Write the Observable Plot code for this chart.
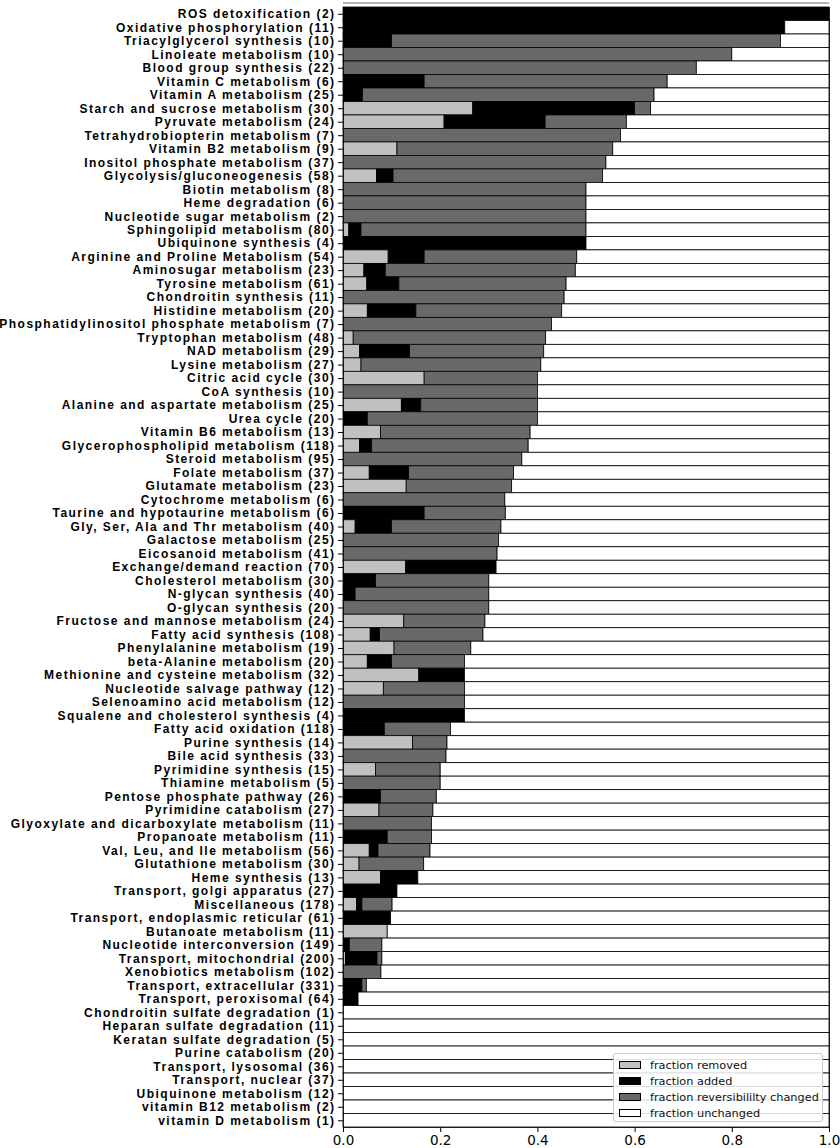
<!DOCTYPE html>
<html>
<head>
<meta charset="utf-8">
<script src="https://cdn.jsdelivr.net/npm/d3@7"></script>
<script src="https://cdn.jsdelivr.net/npm/@observablehq/plot@0.6"></script>
<style>
  body { margin: 0; background: #fff; }
  #wrap { position: relative; width: 840px; height: 1148px; }
  #legend {
    position: absolute; left: 613px; top: 1053px; width: 210px; height: 69px;
    background: rgba(255,255,255,0.85); border: 1px solid #cccccc; border-radius: 3px;
    font-family: "DejaVu Sans", sans-serif; font-size: 11.3px; color: #111;
    box-sizing: border-box; padding: 3px 0 0 5px;
  }
  .lrow { display: flex; align-items: center; height: 16px; }
  .sw { width: 22px; height: 8px; border: 1px solid #000; box-sizing: border-box; margin-right: 9px; }
</style>
</head>
<body>
<div id="wrap"></div>
<script>
const labels = [
  "ROS detoxification (2)","Oxidative phosphorylation (11)","Triacylglycerol synthesis (10)","Linoleate metabolism (10)",
  "Blood group synthesis (22)","Vitamin C metabolism (6)","Vitamin A metabolism (25)","Starch and sucrose metabolism (30)",
  "Pyruvate metabolism (24)","Tetrahydrobiopterin metabolism (7)","Vitamin B2 metabolism (9)","Inositol phosphate metabolism (37)",
  "Glycolysis/gluconeogenesis (58)","Biotin metabolism (8)","Heme degradation (6)","Nucleotide sugar metabolism (2)",
  "Sphingolipid metabolism (80)","Ubiquinone synthesis (4)","Arginine and Proline Metabolism (54)","Aminosugar metabolism (23)",
  "Tyrosine metabolism (61)","Chondroitin synthesis (11)","Histidine metabolism (20)","Phosphatidylinositol phosphate metabolism (7)",
  "Tryptophan metabolism (48)","NAD metabolism (29)","Lysine metabolism (27)","Citric acid cycle (30)",
  "CoA synthesis (10)","Alanine and aspartate metabolism (25)","Urea cycle (20)","Vitamin B6 metabolism (13)",
  "Glycerophospholipid metabolism (118)","Steroid metabolism (95)","Folate metabolism (37)","Glutamate metabolism (23)",
  "Cytochrome metabolism (6)","Taurine and hypotaurine metabolism (6)","Gly, Ser, Ala and Thr metabolism (40)","Galactose metabolism (25)",
  "Eicosanoid metabolism (41)","Exchange/demand reaction (70)","Cholesterol metabolism (30)","N-glycan synthesis (40)",
  "O-glycan synthesis (20)","Fructose and mannose metabolism (24)","Fatty acid synthesis (108)","Phenylalanine metabolism (19)",
  "beta-Alanine metabolism (20)","Methionine and cysteine metabolism (32)","Nucleotide salvage pathway (12)","Selenoamino acid metabolism (12)",
  "Squalene and cholesterol synthesis (4)","Fatty acid oxidation (118)","Purine synthesis (14)","Bile acid synthesis (33)",
  "Pyrimidine synthesis (15)","Thiamine metabolism (5)","Pentose phosphate pathway (26)","Pyrimidine catabolism (27)",
  "Glyoxylate and dicarboxylate metabolism (11)","Propanoate metabolism (11)","Val, Leu, and Ile metabolism (56)","Glutathione metabolism (30)",
  "Heme synthesis (13)","Transport, golgi apparatus (27)","Miscellaneous (178)","Transport, endoplasmic reticular (61)",
  "Butanoate metabolism (11)","Nucleotide interconversion (149)","Transport, mitochondrial (200)","Xenobiotics metabolism (102)",
  "Transport, extracellular (331)","Transport, peroxisomal (64)","Chondroitin sulfate degradation (1)","Heparan sulfate degradation (11)",
  "Keratan sulfate degradation (5)","Purine catabolism (20)","Transport, lysosomal (36)","Transport, nuclear (37)",
  "Ubiquinone metabolism (12)","vitamin B12 metabolism (2)","vitamin D metabolism (1)"
];

const fracRemoved = [
  0,0,0,0, 0,0,0,0.267, 0.208,0,0.111,0, 0.069,0,0,0, 0.012,0,0.093,0.043, 0.049,0,0.05,0,
  0.021,0.034,0.037,0.167, 0,0.12,0,0.077, 0.034,0,0.054,0.13, 0,0,0.025,0, 0,0.129,0,0,
  0,0.125,0.056,0.105, 0.05,0.156,0.083,0, 0,0,0.143,0, 0.067,0,0,0.074, 0,0,0.054,0.033,
  0.077,0,0.028,0, 0.091,0,0.005,0, 0,0,0,0, 0,0,0,0, 0,0,0
];
const fracAdded = [
  1,0.909,0.1,0, 0,0.167,0.04,0.333, 0.208,0,0,0, 0.034,0,0,0, 0.025,0.5,0.074,0.044, 0.066,0,0.1,0,
  0,0.103,0,0, 0,0.04,0.05,0, 0.025,0,0.081,0, 0,0.167,0.075,0, 0,0.186,0.067,0.025,
  0,0,0.019,0, 0.05,0.094,0,0, 0.25,0.085,0,0, 0,0,0.077,0, 0,0.091,0.018,0,
  0.077,0.111,0.011,0.098, 0,0.013,0.065,0, 0.039,0.031,0,0, 0,0,0,0, 0,0,0
];
const fracReversibility = [
  0,0,0.8,0.8, 0.727,0.5,0.6,0.033, 0.167,0.571,0.444,0.541, 0.431,0.5,0.5,0.5, 0.463,0,0.314,0.391, 0.344,0.455,0.3,0.429,
  0.396,0.276,0.37,0.233, 0.4,0.24,0.35,0.308, 0.322,0.368,0.216,0.217, 0.333,0.167,0.225,0.32, 0.317,0,0.233,0.275,
  0.3,0.167,0.213,0.158, 0.15,0,0.167,0.25, 0,0.136,0.071,0.212, 0.133,0.2,0.115,0.111, 0.182,0.091,0.107,0.133,
  0,0,0.062,0, 0,0.067,0.01,0.078, 0.009,0,0,0, 0,0,0,0, 0,0,0
];
const fracUnchanged = [
  0,0.091,0.1,0.2, 0.273,0.333,0.36,0.367, 0.417,0.429,0.445,0.459, 0.466,0.5,0.5,0.5, 0.5,0.5,0.519,0.522, 0.541,0.545,0.55,0.571,
  0.583,0.587,0.593,0.6, 0.6,0.6,0.6,0.615, 0.619,0.632,0.649,0.653, 0.667,0.666,0.675,0.68, 0.683,0.685,0.7,0.7,
  0.7,0.708,0.712,0.737, 0.75,0.75,0.75,0.75, 0.75,0.779,0.786,0.788, 0.8,0.8,0.808,0.815, 0.818,0.818,0.821,0.834,
  0.846,0.889,0.899,0.902, 0.909,0.92,0.92,0.922, 0.952,0.969,1,1, 1,1,1,1, 1,1,1
];

const kinds = ["fraction removed","fraction added","fraction reversibililty changed","fraction unchanged"];
const kindColors = ["#c0c0c0","#000000","#696969","#ffffff"];
const xTicks = [0, 0.2, 0.4, 0.6, 0.8, 1.0];

const series = [fracRemoved, fracAdded, fracReversibility, fracUnchanged];
const rows = [];
labels.forEach((lab, i) => {
  kinds.forEach((k, j) => rows.push({label: lab, kind: k, value: series[j][i]}));
});

const plot = Plot.plot({
  width: 840,
  height: 1148,
  marginLeft: 343,
  marginRight: 11,
  marginTop: 7,
  marginBottom: 21,
  style: {fontFamily: "DejaVu Sans, sans-serif", fontSize: "13.5px", color: "#000", background: "#fff"},
  x: {domain: [0, 1], ticks: xTicks, tickFormat: d3.format(".1f"), tickSize: 5, tickPadding: 3, label: null},
  y: {domain: labels, padding: 0, tickSize: 5, tickPadding: 3, label: null},
  color: {domain: kinds, range: kindColors},
  marks: [
    Plot.barX(rows, Plot.stackX({
      x: "value", y: "label", fill: "kind", z: "kind", order: kinds,
      stroke: "#000", strokeWidth: 0.8
    })),
    Plot.frame({stroke: "#000", strokeWidth: 0.8})
  ]
});

// axis fonts
d3.select(plot).selectAll('g[aria-label^="y-axis"] text')
  .style("font-family", "'Liberation Sans', Arial, sans-serif")
  .style("font-weight", "bold")
  .style("font-size", "12px")
  .style("letter-spacing", "1.47px");

// thin gray top line above the plot area
const xs = plot.scale("x").range;
d3.select(plot).append("line")
  .attr("x1", xs[0]).attr("x2", xs[1])
  .attr("y1", 3).attr("y2", 3)
  .attr("stroke", "#999").attr("stroke-width", 1.5);

const wrap = document.getElementById("wrap");
wrap.appendChild(plot);

const legend = document.createElement("div");
legend.id = "legend";
kinds.forEach((k, j) => {
  const r = document.createElement("div");
  r.className = "lrow";
  const sw = document.createElement("span");
  sw.className = "sw";
  sw.style.background = kindColors[j];
  const t = document.createElement("span");
  t.textContent = k;
  r.appendChild(sw); r.appendChild(t);
  legend.appendChild(r);
});
wrap.appendChild(legend);
</script>
</body>
</html>
